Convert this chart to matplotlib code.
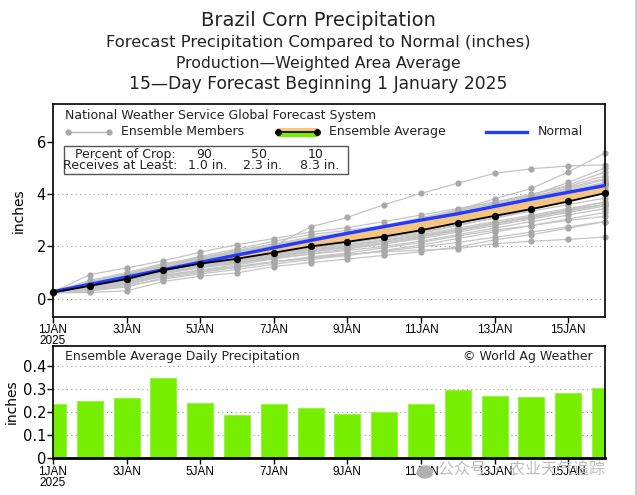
import matplotlib
matplotlib.use("Agg")
import matplotlib.pyplot as plt
from matplotlib.lines import Line2D
from matplotlib.patches import Rectangle
import numpy as np

plt.rcParams['font.family'] = ['DejaVu Sans', 'Noto Sans CJK SC']

# ---------------- data ----------------
days = list(range(1, 17))
tick_days = [1, 3, 5, 7, 9, 11, 13, 15]
tick_labels = ["1JAN\n2025", "3JAN", "5JAN", "7JAN", "9JAN", "11JAN", "13JAN", "15JAN"]

daily_avg = [0.234, 0.248, 0.261, 0.347, 0.239, 0.188, 0.236, 0.218,
             0.192, 0.201, 0.233, 0.297, 0.270, 0.264, 0.281, 0.306]

ens_avg = [0.24, 0.49, 0.75, 1.10, 1.34, 1.53, 1.76, 2.00,
           2.18, 2.38, 2.62, 2.90, 3.17, 3.43, 3.72, 4.04]

normal = [0.27, 0.55, 0.83, 1.11, 1.39, 1.67, 1.95, 2.23,
          2.50, 2.76, 3.01, 3.25, 3.53, 3.81, 4.07, 4.33]

m01 = [0.25, 0.55, 0.82, 1.18, 1.48, 1.72, 2.02, 2.75, 3.11, 3.60, 4.03, 4.42, 4.80, 4.97, 5.08, 5.12]
m02 = [0.24, 0.40, 0.60, 0.88, 1.08, 1.24, 1.42, 1.58, 1.70, 1.80, 1.86, 1.92, 2.10, 2.20, 2.27, 2.36]
m03 = [0.25, 0.46, 0.74, 1.06, 1.32, 1.56, 1.80, 2.02, 2.30, 2.62, 2.96, 3.40, 3.82, 4.22, 4.85, 5.57]
m04 = [0.26, 0.92, 1.18, 1.45, 1.78, 2.07, 2.30, 2.55, 2.72, 2.95, 3.20, 3.45, 3.70, 3.95, 4.35, 4.85]
m05 = [0.22, 0.24, 0.30, 0.66, 0.86, 0.99, 1.23, 1.38, 1.52, 1.66, 1.80, 1.98, 2.25, 2.45, 2.70, 2.95]
m06 = [0.24, 0.30, 0.45, 0.80, 1.00, 1.20, 1.40, 1.60, 1.75, 1.95, 2.15, 2.40, 2.62, 2.80, 3.00, 3.15]
m07 = [0.25, 0.62, 0.95, 1.30, 1.62, 1.90, 2.20, 2.45, 2.62, 2.80, 3.05, 3.35, 3.62, 3.90, 4.25, 4.60]
m08 = [0.24, 0.50, 0.78, 1.12, 1.40, 1.62, 1.88, 2.10, 2.32, 2.55, 2.80, 3.10, 3.40, 3.65, 3.95, 4.30]
m09 = [0.23, 0.36, 0.55, 0.95, 1.20, 1.40, 1.60, 1.80, 1.95, 2.10, 2.30, 2.55, 2.80, 3.05, 3.30, 3.55]
m10 = [0.25, 0.70, 1.00, 1.35, 1.55, 1.75, 2.00, 2.25, 2.45, 2.70, 3.00, 3.30, 3.55, 3.85, 4.15, 4.45]
m11 = [0.24, 0.45, 0.70, 1.05, 1.25, 1.45, 1.65, 1.85, 2.05, 2.25, 2.50, 2.80, 3.10, 3.40, 3.75, 4.10]
m12 = [0.25, 0.52, 0.80, 1.15, 1.45, 1.65, 1.90, 2.15, 2.40, 2.62, 2.90, 3.20, 3.50, 3.80, 4.10, 4.40]
m13 = [0.24, 0.42, 0.62, 0.98, 1.18, 1.35, 1.55, 1.70, 1.85, 2.00, 2.20, 2.45, 2.70, 2.95, 3.20, 3.45]
m14 = [0.25, 0.58, 0.86, 1.22, 1.52, 1.75, 1.95, 2.20, 2.45, 2.75, 3.05, 3.35, 3.65, 3.95, 4.45, 5.00]
m15 = [0.24, 0.48, 0.72, 1.02, 1.25, 1.45, 1.70, 1.90, 2.05, 2.25, 2.45, 2.70, 2.95, 3.20, 3.45, 3.70]
m16 = [0.25, 0.55, 0.82, 1.20, 1.50, 1.78, 2.05, 2.30, 2.50, 2.75, 3.00, 3.25, 3.50, 3.75, 4.05, 4.35]
m17 = [0.23, 0.35, 0.50, 0.90, 1.10, 1.30, 1.52, 1.72, 1.90, 2.10, 2.35, 2.60, 2.85, 3.10, 3.35, 3.60]
m18 = [0.24, 0.46, 0.75, 1.08, 1.30, 1.50, 1.72, 1.95, 2.15, 2.35, 2.60, 2.90, 3.20, 3.50, 3.85, 4.20]
m19 = [0.25, 0.60, 0.90, 1.25, 1.55, 1.85, 2.10, 2.35, 2.55, 2.80, 3.10, 3.40, 3.70, 4.00, 4.30, 4.70]
m20 = [0.24, 0.44, 0.68, 1.00, 1.22, 1.40, 1.62, 1.82, 2.00, 2.20, 2.42, 2.65, 2.90, 3.15, 3.40, 3.70]
m21 = [0.25, 0.50, 0.76, 1.10, 1.35, 1.55, 1.78, 2.00, 2.20, 2.40, 2.65, 2.95, 3.25, 3.55, 3.85, 4.15]
m22 = [0.24, 0.38, 0.58, 0.85, 1.05, 1.20, 1.40, 1.55, 1.68, 1.82, 1.98, 2.15, 2.35, 2.55, 2.75, 2.95]
m23 = [0.25, 0.54, 0.84, 1.18, 1.45, 1.68, 1.92, 2.18, 2.40, 2.65, 2.92, 3.22, 3.52, 3.85, 4.20, 4.55]
m24 = [0.24, 0.47, 0.72, 1.05, 1.28, 1.48, 1.70, 1.92, 2.12, 2.32, 2.55, 2.82, 3.08, 3.35, 3.60, 3.85]
m25 = [0.25, 0.65, 0.95, 1.28, 1.58, 1.82, 2.05, 2.28, 2.48, 2.70, 2.95, 3.22, 3.48, 3.75, 4.05, 4.35]
m26 = [0.23, 0.32, 0.48, 0.75, 0.95, 1.12, 1.32, 1.50, 1.65, 1.85, 2.05, 2.30, 2.55, 2.80, 3.05, 3.30]
m27 = [0.24, 0.50, 0.78, 1.12, 1.38, 1.60, 1.85, 2.08, 2.28, 2.50, 2.75, 3.05, 3.35, 3.65, 4.00, 4.40]
m28 = [0.25, 0.56, 0.85, 1.20, 1.48, 1.70, 1.95, 2.20, 2.42, 2.65, 2.90, 3.15, 3.40, 3.65, 3.90, 4.10]
m29 = [0.24, 0.43, 0.66, 0.98, 1.20, 1.38, 1.58, 1.78, 1.96, 2.15, 2.38, 2.62, 2.88, 3.12, 3.38, 3.62]
m30 = [0.25, 0.52, 0.80, 1.14, 1.40, 1.62, 1.86, 2.10, 2.30, 2.52, 2.78, 3.08, 3.38, 3.70, 4.05, 4.45]
members = [m01, m02, m03, m04, m05, m06, m07, m08, m09, m10, m11, m12, m13, m14, m15,
           m16, m17, m18, m19, m20, m21, m22, m23, m24, m25, m26, m27, m28, m29, m30]

crop_pct = ["90", "50", "10"]
crop_amt = ["1.0 in.", "2.3 in.", "8.3 in."]

# ---------------- figure ----------------
W, H = 637, 495
fig = plt.figure(figsize=(W / 100, H / 100), dpi=100)

def fx(px):
    return px / W

def fy(py):
    return 1 - py / H

tick_font = dict(family=['Liberation Sans Narrow', 'Liberation Sans', 'DejaVu Sans'],
                 size=8.5, linespacing=0.85)
TXT = '#222222'
LEG = 9.0

# titles
fig.text(0.5, fy(20), "Brazil Corn Precipitation", ha='center', va='center', fontsize=14, color=TXT)
fig.text(0.5, fy(43), "Forecast Precipitation Compared to Normal (inches)", ha='center', va='center', fontsize=11.8, color=TXT)
fig.text(0.5, fy(63.5), "Production\u2014Weighted Area Average", ha='center', va='center', fontsize=11.3, color=TXT)
fig.text(0.5, fy(84), "15\u2014Day Forecast Beginning 1 January 2025", ha='center', va='center', fontsize=12.3, color=TXT)

# ---------------- top axes ----------------
ax = fig.add_axes([fx(53), fy(317), fx(605) - fx(53), fy(104) - fy(317)])
ax.set_xlim(1, 16)
ax.set_ylim(-0.7, 7.45)
for yv in [0, 2, 4]:
    ax.axhline(yv, color='#999999', lw=0.8, ls=(0, (1, 3)), zorder=0)

for m in members:
    ax.plot(days, m, color='#c4c4c4', lw=0.9, marker='o', ms=3.5,
            mfc='#a8a8a8', mec='#a8a8a8', zorder=2, clip_on=False)

ens = np.array(ens_avg)
nor = np.array(normal)
ax.fill_between(days, ens, nor, where=nor >= ens, interpolate=True, color='#F5C57F', zorder=3, lw=0)
ax.fill_between(days, ens, nor, where=nor < ens, interpolate=True, color='#77EE00', zorder=3, lw=0)
ax.plot(days, normal, color='#1f3cff', lw=2.4, zorder=4)
ax.plot(days, ens_avg, color='black', lw=1.3, marker='o', ms=4.2, zorder=5, clip_on=False)

ax.set_xticks(tick_days)
ax.set_xticklabels(tick_labels, **tick_font)
ax.set_yticks([0, 2, 4, 6])
ax.set_yticklabels(["0", "2", "4", "6"], fontsize=10.5)
ax.tick_params(axis='both', direction='out', length=4, width=1, pad=1)
ax.tick_params(axis='x', pad=1)
for s in ax.spines.values():
    s.set_linewidth(1.2)
ax.set_ylabel("inches", fontsize=10, labelpad=8)

# legend
fig.text(fx(65), fy(116), "National Weather Service Global Forecast System", fontsize=LEG, va='center', ha='left', color=TXT)
fig.add_artist(Line2D([fx(68), fx(109)], [fy(132), fy(132)], color='#b5b5b5', lw=1))
fig.add_artist(Line2D([fx(68), fx(109)], [fy(132), fy(132)], color='#a8a8a8', lw=0, marker='o', ms=3.5))
fig.text(fx(121), fy(132), "Ensemble Members", fontsize=LEG, va='center', ha='left', color=TXT)
fig.add_artist(Rectangle((fx(277), fy(132)), fx(318) - fx(277), fy(128) - fy(132), color='#F5C57F', lw=0))
fig.add_artist(Rectangle((fx(277), fy(137)), fx(318) - fx(277), fy(132) - fy(137), color='#77EE00', lw=0))
fig.add_artist(Line2D([fx(278), fx(317)], [fy(132), fy(132)], color='black', lw=1.2, marker='o', ms=4))
fig.text(fx(329), fy(132), "Ensemble Average", fontsize=LEG, va='center', ha='left', color=TXT)
fig.add_artist(Line2D([fx(486), fx(527)], [fy(132), fy(132)], color='#1f3cff', lw=2.4))
fig.text(fx(538), fy(132), "Normal", fontsize=LEG, va='center', ha='left', color=TXT)

# percent of crop box
fig.add_artist(Rectangle((fx(64), fy(174)), fx(348) - fx(64), fy(146) - fy(174),
                         facecolor='white', edgecolor='#555555', lw=1))
fig.text(fx(176), fy(154.5), "Percent of Crop:", fontsize=LEG, va='center', ha='right', color=TXT)
fig.text(fx(177), fy(166), "Receives at Least:", fontsize=LEG, va='center', ha='right', color=TXT)
for cx, p, a in zip([204, 259, 316], crop_pct, crop_amt):
    fig.text(fx(cx), fy(154.5), p, fontsize=LEG, va='center', ha='center', color=TXT)
    fig.text(fx(cx + 4), fy(166), a, fontsize=LEG, va='center', ha='center', color=TXT)

# ---------------- bottom axes ----------------
bx = fig.add_axes([fx(53), fy(457.7), fx(605) - fx(53), fy(345.7) - fy(457.7)])
bx.set_xlim(1, 16)
bx.set_ylim(0, 0.49)
for yv in [0.1, 0.2, 0.3, 0.4]:
    bx.axhline(yv, color='#999999', lw=0.8, ls=(0, (1, 3)), zorder=0)
bx.bar(days, daily_avg, width=0.71, color='#76EE00', edgecolor='#9af040', lw=0.8, zorder=2)
bx.set_xticks(tick_days)
bx.set_xticklabels(tick_labels, **tick_font)
bx.set_yticks([0, 0.1, 0.2, 0.3, 0.4])
bx.set_yticklabels(["0", "0.1", "0.2", "0.3", "0.4"], fontsize=10.5)
bx.tick_params(axis='both', direction='out', length=4, width=1, pad=1)
bx.tick_params(axis='x', pad=2)
for s in bx.spines.values():
    s.set_linewidth(1.2)
bx.spines['bottom'].set_linewidth(2)
bx.set_ylabel("inches", fontsize=10, labelpad=3)
bx.text(0.022, 0.9, "Ensemble Average Daily Precipitation", transform=bx.transAxes,
        fontsize=LEG, va='center', ha='left', color=TXT, zorder=5)
bx.text(0.978, 0.9, "\u00a9 World Ag Weather", transform=bx.transAxes,
        fontsize=LEG, va='center', ha='right', color=TXT, zorder=5)

# watermark
fig.text(fx(438), fy(470), "公众号 · 农业天气追踪", fontsize=11.5, va='center', ha='left',
         color='#bdbdbd', family=['Noto Sans CJK SC', 'DejaVu Sans'])
fig.add_artist(plt.Circle((fx(425), fy(472)), 0.012, color='#b0b0b0', transform=fig.transFigure))

# right grey border
fig.add_artist(Line2D([fx(636), fx(636)], [0, 1], color='#c8c8c8', lw=2))

fig.savefig("out.png", dpi=100)
